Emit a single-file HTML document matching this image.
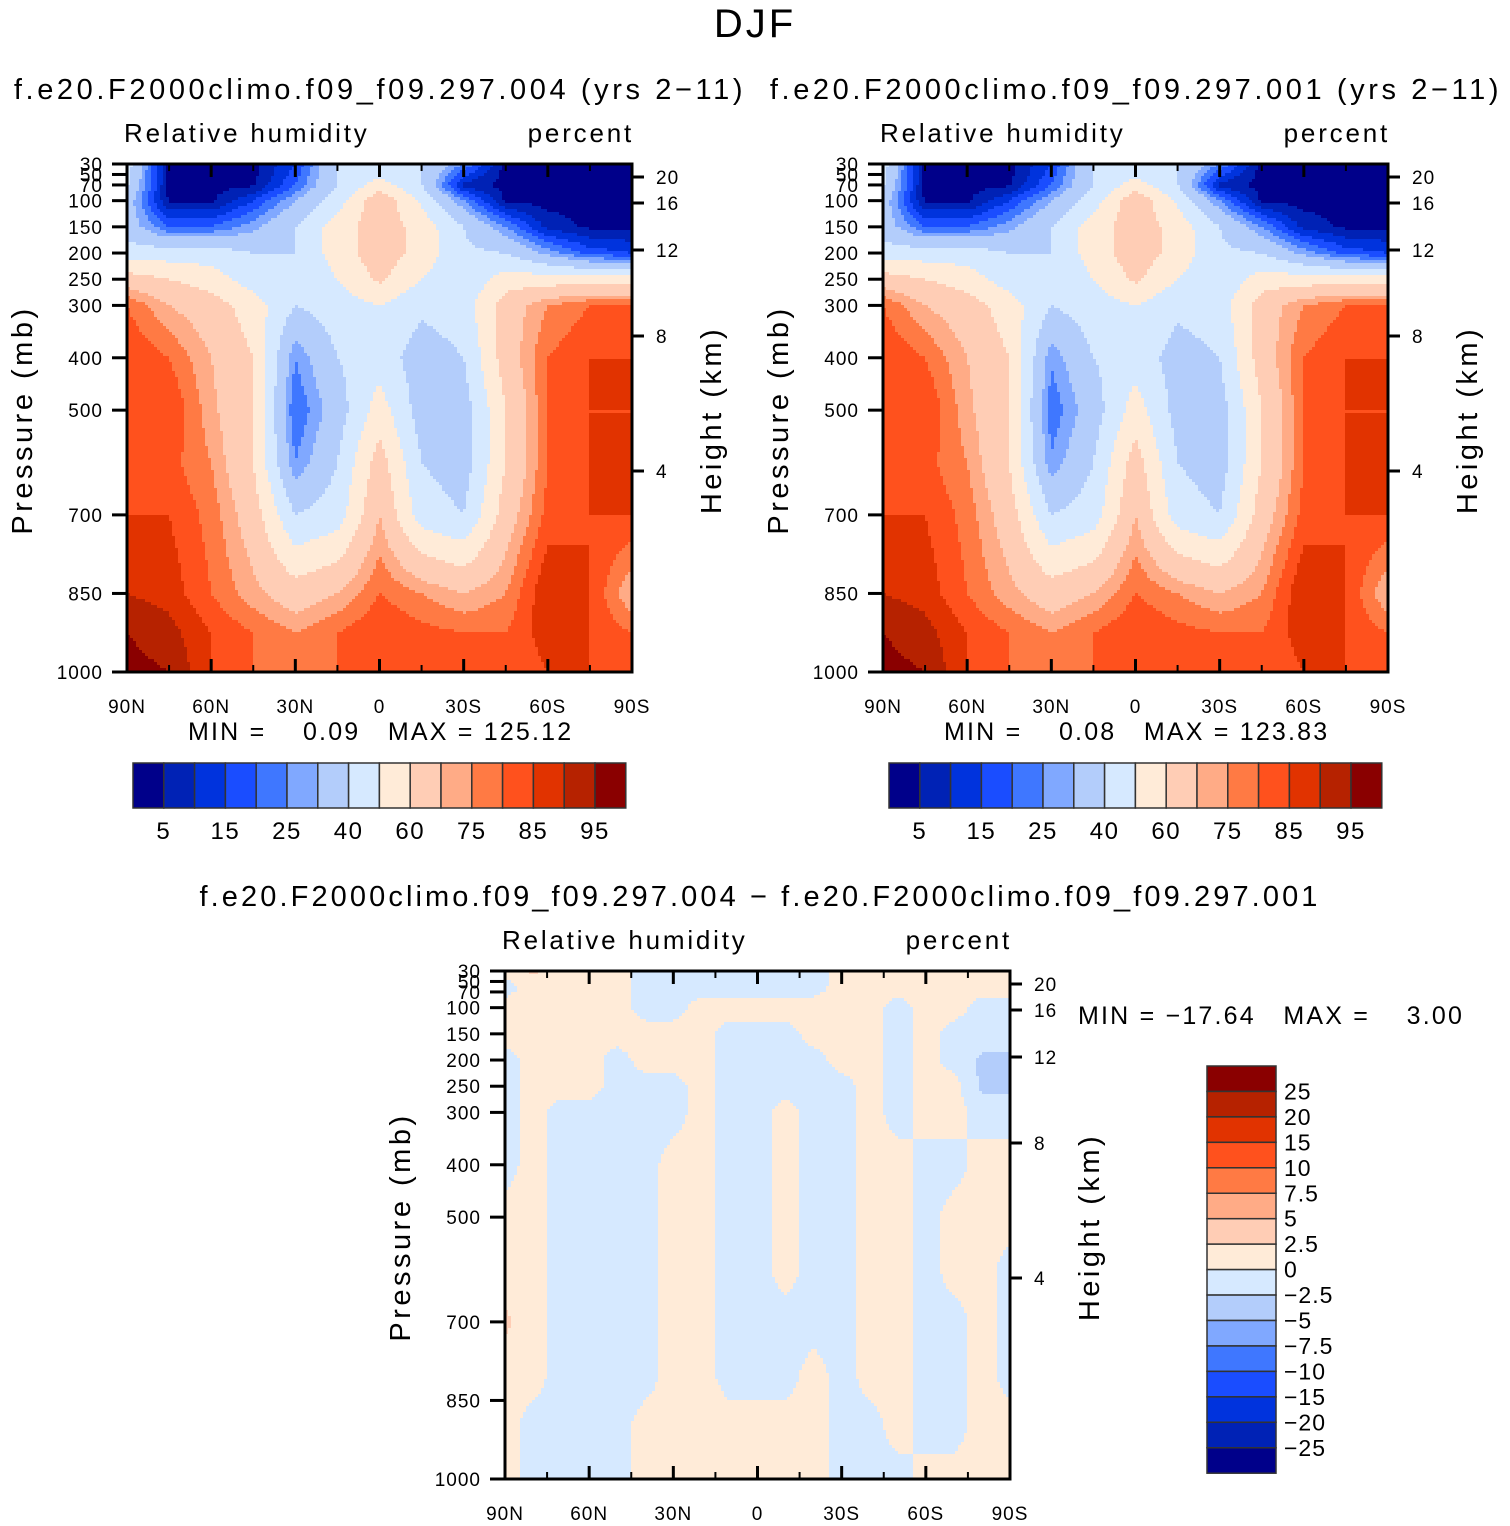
<!DOCTYPE html>
<html><head><meta charset="utf-8"><style>
html,body{margin:0;padding:0;background:#fff;}
svg{display:block;font-family:"Liberation Sans",sans-serif;}
</style></head><body>
<svg id="fig" width="1510" height="1526" viewBox="0 0 1510 1526" xmlns="http://www.w3.org/2000/svg">
<text x="755" y="37" font-size="40" text-anchor="middle" letter-spacing="3">DJF</text>
<text x="380" y="99" font-size="29" text-anchor="middle" letter-spacing="3.6">f.e20.F2000climo.f09_f09.297.004 (yrs 2−11)</text>
<text x="1136" y="99" font-size="29" text-anchor="middle" letter-spacing="3.6">f.e20.F2000climo.f09_f09.297.001 (yrs 2−11)</text>
<text x="760" y="906" font-size="29" text-anchor="middle" letter-spacing="3.1">f.e20.F2000climo.f09_f09.297.004 − f.e20.F2000climo.f09_f09.297.001</text>
<g id="panels"></g>
</svg>
<script>
// ---- data ----
const lats = [90,75,60,45,30,15,0,-15,-30,-45,-60,-75,-90];
const plevs = [30,70,100,150,200,250,300,400,500,600,700,850,925,1000];
const rhCase004 = [
 [45,3,3,3,15,40,40,40,25,3,3,3,3],
 [42,3,3,4,20,40,55,40,8,3,3,3,3],
 [35,4,4,15,30,45,68,48,25,4,3,3,3],
 [35,20,20,28,40,55,66,56,40,25,8,4,4],
 [45,45,45,40,40,55,66,56,42,40,28,18,15],
 [65,60,55,45,40,50,62,50,42,55,55,55,55],
 [80,70,65,55,40,45,50,42,45,65,75,80,80],
 [85,80,70,60,25,40,45,35,40,65,80,85,85],
 [85,85,72,60,20,35,55,35,35,60,80,85,85],
 [85,82,75,60,25,40,65,40,35,60,80,85,85],
 [85,85,78,65,40,45,70,45,40,65,82,85,85],
 [90,88,80,72,65,70,80,75,70,75,90,85,70],
 [95,92,85,80,75,80,85,82,80,80,88,85,80],
 [97,95,85,80,75,80,85,83,82,80,85,85,85]];
const rhCase001 = [
 [45,3,3,3,15,40,40,40,25,3,3,3,3],
 [42,3,3,4,20,40,55,40,8,3,3,3,3],
 [35,4,4,15,30,45,68,48,25,4,3,3,3],
 [35,20,20,28,40,55,66,56,40,25,8,4,4],
 [45,45,45,40,40,55,66,56,42,40,28,18,15],
 [65,60,55,45,40,50,62,50,42,55,55,55,55],
 [80,70,65,55,40,45,50,42,45,65,75,80,80],
 [85,80,70,60,26,40,45,36,40,65,80,85,85],
 [85,85,72,60,21,35,55,36,35,60,80,85,85],
 [85,82,75,60,26,40,65,40,35,60,80,85,85],
 [85,85,78,65,40,45,70,45,40,65,82,85,85],
 [90,88,80,72,65,70,80,75,70,75,90,85,70],
 [95,92,85,80,75,80,85,82,80,80,88,85,80],
 [97,95,85,80,75,80,85,83,82,80,85,85,85]];
const diffLats = [90,80,70,60,50,40,30,20,10,0,-10,-20,-30,-40,-50,-60,-70,-80,-90];
const diffPlevs = [30,60,100,150,200,250,300,400,500,600,700,800,900,1000];
const rhDiff = [
 [1,3,1,1,1,-1,-1,-1,-1,-1,-1,-1,1,1,1,1,1,1,1],
 [-1,1,1,1,1,-1,-1,-1,-1,-1,-1,-1,1,1,1,1,1,1,1],
 [1,1,1,1,1,-1,-1,1,1,1,1,1,1,1,-1,1,1,-1,-1],
 [1,1,1,1,1,1,1,1,-1,-1,-1,1,1,1,-1,1,-1,-1,-1],
 [-1,1,1,1,-1,1,1,1,-1,-1,-1,-1,1,1,-1,1,-1,-3,-3],
 [-1,1,1,1,-1,-1,-1,1,-1,-1,-1,-1,-1,1,-1,1,1,-3,-3],
 [-1,1,-1,-1,-1,-1,-1,1,-1,-1,1,-1,-1,1,-1,1,1,-1,-1],
 [-1,1,-1,-1,-1,-1,1,1,-1,-1,1,-1,-1,1,1,-1,-1,1,1],
 [1,1,-1,-1,-1,-1,1,1,-1,-1,1,-1,-1,1,1,-1,1,1,1],
 [1,1,-1,-1,-1,-1,1,1,-1,-1,1,-1,-1,1,1,-1,1,1,-1],
 [3,1,-1,-1,-1,-1,1,1,-1,-1,-1,-1,-1,1,1,-1,-1,1,-1],
 [1,1,-1,-1,-1,-1,1,1,-1,-1,-1,1,-1,1,1,-1,-1,1,-1],
 [1,-1,-1,-1,-1,1,1,1,1,1,1,1,-1,-1,1,-1,-1,1,1],
 [1,-1,-1,-1,-1,1,1,1,1,1,1,1,-1,-1,-1,1,1,1,1]];
const rhLevels = [5,10,15,20,25,30,40,50,60,70,75,80,85,90,95];
const rhLabels = ["5","15","25","40","60","75","85","95"];
const diffLevels = [-25,-20,-15,-10,-7.5,-5,-2.5,0,2.5,5,7.5,10,15,20,25];
const diffLabels = ["−25","−20","−15","−10","−7.5","−5","−2.5","0","2.5","5","7.5","10","15","20","25"];
const colors = ["#00008a","#0022b5","#0033dd","#1a4dff","#3f77ff","#80a8ff","#b3cdfb","#d6e9ff","#ffebd8","#ffcdb5","#ffab86","#ff7a44","#ff511d","#e13300","#b62200","#8a0000"];
const pTicks = [30,50,70,100,150,200,250,300,400,500,700,850,1000];
const zTicks = [[20,13],[16,39],[12,86],[8,172],[4,307]];
const latTicks = [[90,"90N"],[60,"60N"],[30,"30N"],[0,"0"],[-30,"30S"],[-60,"60S"],[-90,"90S"]];

const NS="http://www.w3.org/2000/svg";
const root=document.getElementById('panels');
function mk(tag,attrs,parent){const e=document.createElementNS(NS,tag);for(const k in attrs)e.setAttribute(k,attrs[k]);(parent||root).appendChild(e);return e;}
function idx(arr,v){
  for(let i=0;i<arr.length-1;i++){const a=arr[i],b=arr[i+1];
    if((v>=a&&v<=b)||(v<=a&&v>=b)){return [i,(v-a)/(b-a)];}}
  return [arr.length-2,1];
}
function sample(grid,la,pl,lat,p){
  const [i,fi]=idx(la,lat);const [j,fj]=idx(pl,p);
  const a=grid[j][i],b=grid[j][i+1],c=grid[j+1][i],d=grid[j+1][i+1];
  return (a*(1-fi)+b*fi)*(1-fj)+(c*(1-fi)+d*fi)*fj;
}
function colorOf(v,levels){let k=0;while(k<levels.length&&v>=levels[k])k++;return colors[k];}

function panel(ox,oy,grid,la,pl,levels,name){
  const W=505,H=508;
  const xs=lat=>ox+(90-lat)/180*W;
  const ys=p=>oy+(p-30)/970*H;
  const g=mk('g',{});
  
  
  const step=3;
  for(let py=0;py<H;py+=step){
    const p=30+Math.min(py+step/2,H)/H*970;
    let runStart=0,runCol=null;
    const flush=(end)=>{const r=mk('rect',{x:ox+runStart,y:oy+py,width:end-runStart+0.3,height:Math.min(step,H-py)+0.5,fill:runCol},g);
      
      };
    for(let px=0;px<W;px+=step){
      const lat=90-Math.min(px+step/2,W)/W*180;
      const col=colorOf(sample(grid,la,pl,lat,p),levels);
      if(col!==runCol){ if(runCol!==null) flush(px); runStart=px; runCol=col; }
    }
    flush(W);
  }
  const frame=mk('rect',{x:ox,y:oy,width:W,height:H,fill:'none',stroke:'#000','stroke-width':3});
  
  pTicks.forEach(p=>{mk('line',{x1:ox-15,x2:ox,y1:ys(p),y2:ys(p),stroke:'#000','stroke-width':3});
    const t=mk('text',{x:ox-24,y:ys(p)+7,'font-size':19,'text-anchor':'end','letter-spacing':1});t.textContent=p;
    });
  zTicks.forEach(([z,dy])=>{mk('line',{x1:ox+W,x2:ox+W+12,y1:oy+dy,y2:oy+dy,stroke:'#000','stroke-width':3});
    const t=mk('text',{x:ox+W+24,y:oy+dy+7,'font-size':19,'letter-spacing':1});t.textContent=z;
    });
  latTicks.forEach(([l,s])=>{const x=xs(l);
    mk('line',{x1:x,x2:x,y1:oy+H,y2:oy+H-13,stroke:'#000','stroke-width':3});
    mk('line',{x1:x,x2:x,y1:oy,y2:oy+13,stroke:'#000','stroke-width':3});
    const t=mk('text',{x:x,y:oy+H+41,'font-size':19,'text-anchor':'middle','letter-spacing':1});t.textContent=s;
    });
  for(let l=75;l>-90;l-=30){const x=xs(l);mk('line',{x1:x,x2:x,y1:oy+H,y2:oy+H-7,stroke:'#000','stroke-width':2});mk('line',{x1:x,x2:x,y1:oy,y2:oy+7,stroke:'#000','stroke-width':2});}
  let t=mk('text',{x:ox-3,y:oy-22,'font-size':26,'letter-spacing':2.8});t.textContent='Relative humidity';
  
  t=mk('text',{x:ox+W+2,y:oy-22,'font-size':26,'text-anchor':'end','letter-spacing':2.8});t.textContent='percent';
  
  t=mk('text',{x:0,y:0,'font-size':29,'text-anchor':'middle','letter-spacing':3.5,transform:`translate(${ox-95},${oy+256}) rotate(-90)`});t.textContent='Pressure (mb)';
  
  t=mk('text',{x:0,y:0,'font-size':29,'text-anchor':'middle','letter-spacing':3.5,transform:`translate(${ox+W+89},${oy+256}) rotate(-90)`});t.textContent='Height (km)';
  
}
function hbar(ox,oy,name){
  const w=30.8;
  colors.forEach((c,i)=>{const r=mk('rect',{x:ox+i*w,y:oy,width:w,height:45,fill:c,stroke:'#333','stroke-width':1.5});
    });
  rhLabels.forEach((s,i)=>{const t=mk('text',{x:ox+(2*i+1)*w,y:oy+76,'font-size':24,'text-anchor':'middle','letter-spacing':1.5});t.textContent=s;
    });
}
function minmax(x,y,s,name){const t=mk('text',{x:x,y:y,'font-size':25,'letter-spacing':2.2});t.setAttribute('style','white-space:pre');t.textContent=s;
  }

panel(127,164,rhCase004,lats,plevs,rhLevels,'left-panel');
panel(883,164,rhCase001,lats,plevs,rhLevels,'right-panel');
panel(505,971,rhDiff,diffLats,diffPlevs,diffLevels,'diff-panel');
minmax(188,740,'MIN =    0.09   MAX = 125.12','left-minmax');
minmax(944,740,'MIN =    0.08   MAX = 123.83','right-minmax');
minmax(1078,1024,'MIN = −17.64   MAX =    3.00','diff-minmax');
hbar(133,763,'left-colorbar');
hbar(889,763,'right-colorbar');
(function(){const ox=1207,oy=1066,h=25.45;
  for(let i=0;i<16;i++){const r=mk('rect',{x:ox,y:oy+i*h,width:69,height:h,fill:colors[15-i],stroke:'#333','stroke-width':1.5});
    }
  for(let i=0;i<15;i++){const t=mk('text',{x:ox+77,y:oy+(i+1)*h+8,'font-size':23,'letter-spacing':1});t.textContent=diffLabels[14-i];
    }
})();
</script>
</body></html>
